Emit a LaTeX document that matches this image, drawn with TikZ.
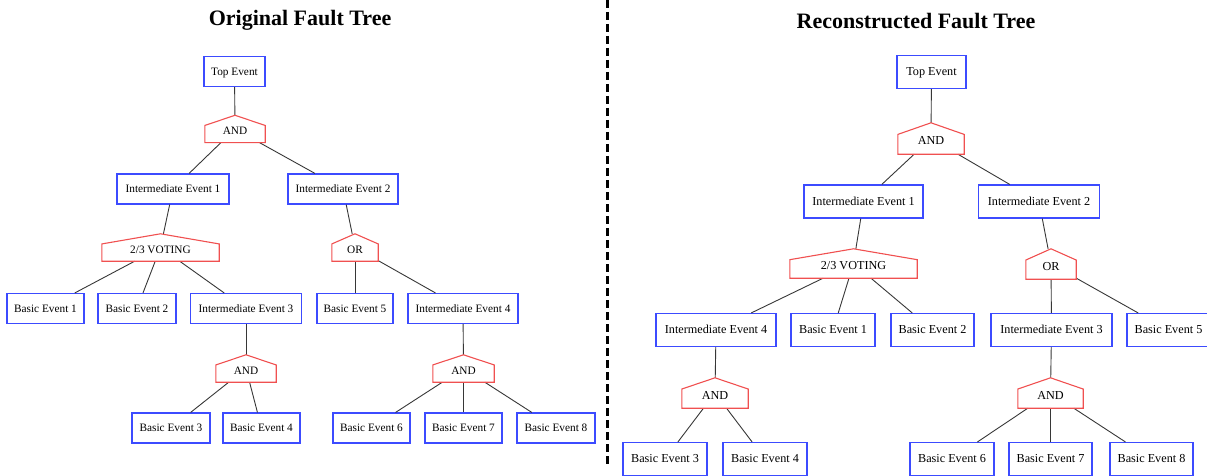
\documentclass[tikz,border=0pt]{standalone}
\usepackage{fontspec}
\setmainfont{Liberation Serif}
\usetikzlibrary{calc}
\definecolor{evtblue}{RGB}{60,75,255}
\definecolor{gatered}{RGB}{240,80,80}
\definecolor{edgegray}{RGB}{55,55,55}
\begin{document}
\begin{tikzpicture}[x=1pt,y=-1pt,
  lfont/.style={font=\fontsize{11.3}{13}\selectfont},
  rfont/.style={font=\fontsize{12.2}{14}\selectfont},
  evt/.style={draw=evtblue,line width=1.1pt,rectangle,inner sep=0pt,text height=7.5pt,text depth=0pt},
  gateL/.style={lfont,rectangle,inner sep=0pt,text height=11.4pt,text depth=0pt,minimum height=27pt},
  gateR/.style={rfont,rectangle,inner sep=0pt,text height=12pt,text depth=0pt,minimum height=30pt},
  lbox/.style={evt,lfont,minimum height=30pt},
  rbox/.style={evt,rfont,minimum height=33pt},
  edge/.style={draw=edgegray,line width=0.9pt},
  house/.style={draw=gatered,line width=1.1pt,line join=miter},
  title/.style={font=\fontsize{22}{26}\selectfont\bfseries}]
\useasboundingbox (0,0) rectangle (1207,476);

% titles and divider
\node[title] (ltitle) at (300,20) {Original Fault Tree};
\node[title] (rtitle) at (916,21) {Reconstructed Fault Tree};
\coordinate (divtop) at (607,0);
\coordinate (divbot) at (607,465);
\draw[line width=3pt,dash pattern=on 8pt off 4pt] (divtop) -- (divbot);

% ---------- original tree ----------
\node[lbox,minimum width=61pt] (ltop) at (234.5,71.5) {Top Event};
\node[gateL,minimum width=60pt] (land) at (235,129) {AND};
\node[lbox,minimum width=112pt] (lie1) at (173,189) {Intermediate Event 1};
\node[lbox,minimum width=110pt] (lie2) at (343,189) {Intermediate Event 2};
\node[gateL,minimum width=117pt] (lvote) at (160.5,247.5) {2/3 VOTING};
\node[gateL,minimum width=46pt] (lor) at (355,247.5) {OR};
\node[lbox,minimum width=77pt] (lbe1) at (45.5,308.5) {Basic Event 1};
\node[lbox,minimum width=78pt] (lbe2) at (137,308.5) {Basic Event 2};
\node[lbox,minimum width=111pt] (lie3) at (246,308.5) {Intermediate Event 3};
\node[lbox,minimum width=76pt] (lbe5) at (355,308.5) {Basic Event 5};
\node[lbox,minimum width=110pt] (lie4) at (463,308.5) {Intermediate Event 4};
\node[gateL,minimum width=60pt] (land2) at (246,368.5) {AND};
\node[gateL,minimum width=61pt] (land3) at (463.5,368.5) {AND};
\node[lbox,minimum width=78pt] (lbe3) at (171,428) {Basic Event 3};
\node[lbox,minimum width=77pt] (lbe4) at (261.5,428) {Basic Event 4};
\node[lbox,minimum width=77pt] (lbe6) at (371.5,428) {Basic Event 6};
\node[lbox,minimum width=77pt] (lbe7) at (463.5,428) {Basic Event 7};
\node[lbox,minimum width=78pt] (lbe8) at (556,428) {Basic Event 8};

\foreach \a/\b in {ltop/land,land/lie1,land/lie2,lie1/lvote,lie2/lor,
  lvote/lbe1,lvote/lbe2,lvote/lie3,lor/lbe5,lor/lie4,lie3/land2,lie4/land3,
  land2/lbe3,land2/lbe4,land3/lbe6,land3/lbe7,land3/lbe8}
  \draw[edge] (\a) -- (\b);

% ---------- reconstructed tree ----------
\node[rbox,minimum width=69pt] (rtop) at (931.5,72) {Top Event};
\node[gateR,minimum width=66pt,minimum height=31pt] (rand) at (931,138.5) {AND};
\node[rbox,minimum width=119pt] (rie1) at (863.5,201.5) {Intermediate Event 1};
\node[rbox,minimum width=121pt] (rie2) at (1039,201.5) {Intermediate Event 2};
\node[gateR,minimum width=127pt,minimum height=29pt] (rvote) at (853.5,263.5) {2/3 VOTING};
\node[gateR,minimum width=50pt] (ror) at (1051,264) {OR};
\node[rbox,minimum width=120pt] (rie4) at (716,330) {Intermediate Event 4};
\node[rbox,minimum width=84pt] (rbe1) at (833,330) {Basic Event 1};
\node[rbox,minimum width=83pt] (rbe2) at (932.5,330) {Basic Event 2};
\node[rbox,minimum width=121pt] (rie3) at (1051.5,330) {Intermediate Event 3};
\node[rbox,minimum width=83pt] (rbe5) at (1168.5,330) {Basic Event 5};
\node[gateR,minimum width=66pt] (rand2) at (715,393) {AND};
\node[gateR,minimum width=65pt] (rand3) at (1050.5,393) {AND};
\node[rbox,minimum width=84pt] (rbe3) at (665,459) {Basic Event 3};
\node[rbox,minimum width=84pt] (rbe4) at (765,459) {Basic Event 4};
\node[rbox,minimum width=84pt] (rbe6) at (952,459) {Basic Event 6};
\node[rbox,minimum width=83pt] (rbe7) at (1050.5,459) {Basic Event 7};
\node[rbox,minimum width=83pt] (rbe8) at (1151.5,459) {Basic Event 8};

\foreach \a/\b in {rtop/rand,rand/rie1,rand/rie2,rie1/rvote,rie2/ror,
  rvote/rie4,rvote/rbe1,rvote/rbe2,ror/rie3,ror/rbe5,rie4/rand2,rie3/rand3,
  rand2/rbe3,rand2/rbe4,rand3/rbe6,rand3/rbe7,rand3/rbe8}
  \draw[edge] (\a) -- (\b);

% house-shaped gate outlines
\foreach \g in {land,lvote,lor,land2,land3,rand,rvote,ror,rand2,rand3}
  \draw[house] (\g.south west) -- ($(\g.south west)!0.63!(\g.north west)$)
    -- (\g.north) -- ($(\g.south east)!0.63!(\g.north east)$)
    -- (\g.south east) -- cycle;
\end{tikzpicture}
\end{document}
